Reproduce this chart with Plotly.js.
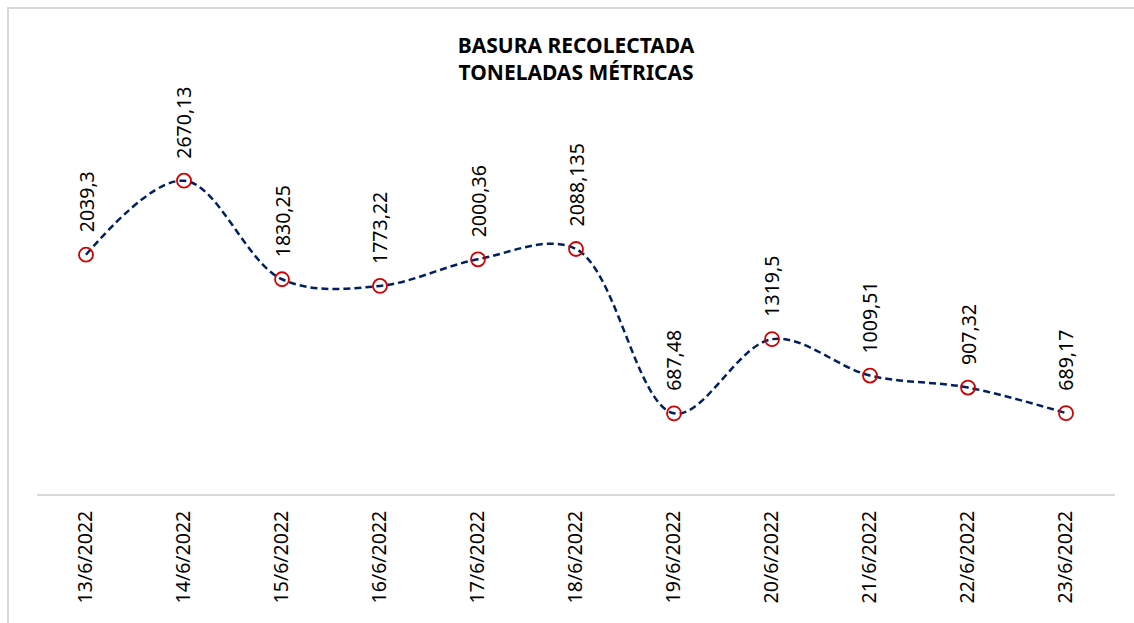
<!DOCTYPE html>
<html>
<head>
<meta charset="utf-8">
<script src="https://cdn.plot.ly/plotly-3.0.1.min.js"></script>
<style>
  html, body { margin: 0; padding: 0; background: #fff; }
  #chart { width: 1134px; height: 623px; }
  #frame { position: absolute; left: 7px; top: 7px; width: 1200px; height: 700px;
           border-top: 2px solid #d9d9d9; border-left: 2px solid #d9d9d9; pointer-events: none; }
</style>
</head>
<body>
<div id="chart"></div>
<div id="frame"></div>
<script>
const fechas = ["13/6/2022","14/6/2022","15/6/2022","16/6/2022","17/6/2022","18/6/2022","19/6/2022","20/6/2022","21/6/2022","22/6/2022","23/6/2022"];
const toneladas = [2039.3, 2670.13, 1830.25, 1773.22, 2000.36, 2088.135, 687.48, 1319.5, 1009.51, 907.32, 689.17];
const etiquetas = ["2039,3","2670,13","1830,25","1773,22","2000,36","2088,135","687,48","1319,5","1009,51","907,32","689,17"];

const FONT = "Noto Sans, Open Sans, sans-serif";

const trace = {
  x: fechas,
  y: toneladas,
  type: "scatter",
  mode: "lines+markers",
  line: { shape: "spline", smoothing: 1, color: "#002060", width: 2.5, dash: "7px,4px" },
  marker: { symbol: "circle-open", size: 14, color: "#d00000", line: { width: 1.8, color: "#d00000" } },
  hoverinfo: "skip"
};

const annotations = fechas.map((f, i) => ({
  x: f, y: toneladas[i], xref: "x", yref: "y",
  text: etiquetas[i], showarrow: false, textangle: -90,
  xanchor: "center", yanchor: "bottom", yshift: 20,
  font: { family: FONT, size: 19.5, color: "#000" }
}));

const layout = {
  width: 1134, height: 623,
  margin: { l: 37, r: 19, t: 142, b: 129 },
  paper_bgcolor: "#fff", plot_bgcolor: "#fff",
  showlegend: false,
  title: {
    text: "<b>BASURA RECOLECTADA<br>TONELADAS MÉTRICAS</b>",
    x: 0.508, xanchor: "center", y: 0.915, yanchor: "top",
    font: { family: FONT, size: 21, color: "#000" }
  },
  xaxis: {
    type: "category", range: [-0.5, 10.5],
    showgrid: false, zeroline: false, showline: true, linecolor: "#d9d9d9", linewidth: 2,
    ticks: "", tickangle: -90, ticklabelstandoff: 7,
    tickfont: { family: FONT, size: 19.5, color: "#000" }
  },
  yaxis: {
    range: [0, 3000], visible: false, showgrid: false, zeroline: false
  },
  annotations: annotations
};

Plotly.newPlot("chart", [trace], layout, { displayModeBar: false, staticPlot: true });
</script>
</body>
</html>
